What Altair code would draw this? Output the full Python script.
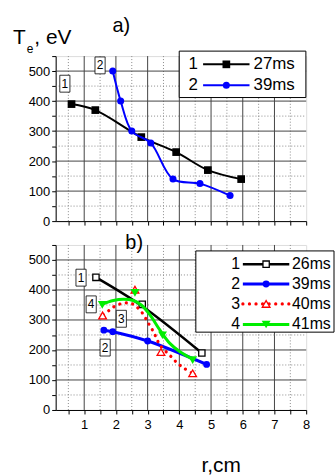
import altair as alt
import pandas as pd

FONT = "Liberation Sans"

# ---------------- data ----------------
# panel a)
a_nums = ["1", "2"]
a_times = ["27ms", "39ms"]
a1_r = [0.6, 1.35, 2.8, 3.9, 4.9, 5.95]
a1_te = [390, 370, 280, 230, 170, 140]
a2_r = [1.9, 2.15, 2.5, 3.1, 3.8, 4.65, 5.6]
a2_te = [500, 400, 300, 260, 140, 125, 85]

# panel b) measured points
b_nums = ["1", "2", "3", "4"]
b_times = ["26ms", "39ms", "40ms", "41ms"]
b1_r = [1.37, 2.83, 4.71]
b1_te = [442, 352, 190]
b2_r = [1.62, 1.9, 3.0, 4.86]
b2_te = [266, 261, 230, 152]
b3_r = [1.58, 2.6, 3.42, 4.42]
b3_te = [315, 401, 193, 122]
b4_r = [1.57, 2.6, 3.47, 4.42]
b4_te = [350, 390, 249, 166]

# panel b) smoothed curves as drawn
c1_r = [1.37, 2.83, 4.71]
c1_te = [442, 346, 190]
c2_r = [1.62, 1.9, 3.0, 4.86]
c2_te = [266, 261, 230, 152]
c3_r = [1.6, 1.8, 2.0, 2.25, 2.47, 2.66, 2.87, 3.0, 3.13, 3.25, 3.39, 3.73, 3.92, 4.15, 4.42]
c3_te = [318, 333, 348, 356, 356, 343, 318, 293, 271, 246, 216, 179, 158, 139, 122]
c4_r = [1.55, 1.92, 2.24, 2.55, 2.81, 3.08, 3.39, 3.7, 4.02, 4.44]
c4_te = [352, 365, 369, 365, 349, 316, 266, 222, 194, 168]

# curve tag labels
a_tag_text = ["1", "2"]
a_tag_r = [0.39, 1.5]
a_tag_te = [458, 519]
b_tag_text = ["1", "4", "3", "2"]
b_tag_r = [0.9, 1.22, 2.17, 1.66]
b_tag_te = [441, 352, 304, 208]

# ticks / grid
x_ticks = [0.5 * i for i in range(1, 17)]
y_ticks = [50 * i for i in range(0, 12)]
x_major = [1, 2, 3, 4, 5, 6, 7]
x_minor = [0.5, 1.5, 2.5, 3.5, 4.5, 5.5, 6.5, 7.5]
y_major = [100, 200, 300, 400, 500]
y_minor = [50, 150, 250, 350, 450]

# ---------------- layout ----------------
X0, X1, Y1 = 0.1, 8.0, 550
W, H, SP = 252, 166, 24
LEFT, TOP_A = 55, 54
TOP_B = TOP_A + H + SP


def xd(px):
    return X0 + (px - LEFT) * (X1 - X0) / W


def ya(py):
    return (TOP_A + H - py) * Y1 / H


def yb(py):
    return (TOP_B + H - py) * Y1 / H


xs = alt.Scale(domain=[X0, X1], nice=False, zero=False)
ys = alt.Scale(domain=[0, Y1], nice=False, zero=False)

common = dict(domainColor="black", tickColor="black", tickSize=4, grid=False,
              labelFont=FONT, labelColor="black", labelFontSize=13,
              domainWidth=1, tickWidth=1, labelFlush=False, labelOverlap=False)
x_axis_a = alt.Axis(values=x_ticks, labels=False, title=None, **common)
x_axis_b = alt.Axis(values=x_ticks,
                    labelExpr="datum.value % 1 == 0 ? '' + datum.value : ''",
                    labelPadding=5, title="r,cm", titleFont=FONT, titleFontSize=21,
                    titleFontWeight="normal", titleColor="black", titleX=166, titleY=62,
                    titleAlign="center", titleBaseline="alphabetic", **common)
y_axis = alt.Axis(values=y_ticks,
                  labelExpr="datum.value % 100 == 0 && datum.value <= 500 ? '' + datum.value : ''",
                  labelPadding=2, title=None, **common)


def XY(ax):
    return dict(x=alt.X("x:Q", scale=xs, axis=ax), y=alt.Y("y:Q", scale=ys, axis=y_axis))


def grid_layers(ax):
    out = []
    for vals, col, dash in [(x_minor, "#8a8a8a", [1, 2]), (x_major, "#444444", None)]:
        kw = dict(color=col, strokeWidth=1)
        if dash:
            kw["strokeDash"] = dash
        df = pd.DataFrame({"x": vals, "y": [0] * len(vals), "y2": [Y1] * len(vals)})
        out.append(alt.Chart(df).mark_rule(**kw).encode(**XY(ax), y2="y2:Q"))
    for vals, col, dash in [(y_minor, "#8a8a8a", [1, 2]), (y_major, "#444444", None)]:
        kw = dict(color=col, strokeWidth=1)
        if dash:
            kw["strokeDash"] = dash
        df = pd.DataFrame({"y": vals, "x": [X0] * len(vals), "x2": [X1] * len(vals)})
        out.append(alt.Chart(df).mark_rule(**kw).encode(**XY(ax), x2="x2:Q"))
    return out


def frame(ax, x1, x2, y1, y2):
    df = pd.DataFrame({"x": [x1], "x2": [x2], "y": [y1], "y2": [y2]})
    return alt.Chart(df).mark_rect(opacity=0).encode(**XY(ax), x2="x2:Q", y2="y2:Q")


def line(ax, r, te, color, sw, dash=None):
    kw = dict(color=color, strokeWidth=sw, interpolate="catmull-rom")
    if dash:
        kw["strokeDash"] = dash
        kw["strokeCap"] = "round"
    return alt.Chart(pd.DataFrame({"x": r, "y": te})).mark_line(**kw).encode(**XY(ax))


def pts(ax, r, te, shape, color, size, hollow=False):
    if hollow:
        m = alt.Chart(pd.DataFrame({"x": r, "y": te})).mark_point(
            shape=shape, filled=True, fill="white", stroke=color, strokeWidth=1.3,
            size=size, opacity=1)
    else:
        m = alt.Chart(pd.DataFrame({"x": r, "y": te})).mark_point(
            shape=shape, filled=True, color=color, size=size, opacity=1)
    return m.encode(**XY(ax))


def text(ax, x, y, s, size, align="left", baseline="alphabetic"):
    df = pd.DataFrame({"x": [x], "y": [y], "t": [s]})
    return alt.Chart(df).mark_text(font=FONT, fontSize=size, align=align,
                                   baseline=baseline, color="black").encode(**XY(ax), text="t:N")


BOX = "M-0.6,-1H0.6V1H-0.6Z"


def tags(ax, r, te, labels):
    df = pd.DataFrame({"x": r, "y": te, "t": labels})
    b = alt.Chart(df).mark_point(shape=BOX, size=289, filled=True, fill="white",
                                 stroke="black", strokeWidth=0.8, opacity=1).encode(**XY(ax))
    t = alt.Chart(df).mark_text(font=FONT, fontSize=12, baseline="middle",
                                align="center", color="black").encode(**XY(ax), text="t:N")
    return [b, t]


def legend(ax, yconv, box, rows, numx, lx1, lx2, mx, labx, nums, times, styles, fs):
    out = []
    df = pd.DataFrame({"x": [xd(box[0])], "x2": [xd(box[2])],
                       "y": [yconv(box[1])], "y2": [yconv(box[3])]})
    out.append(alt.Chart(df).mark_rect(fill="white", stroke="black", strokeWidth=1)
               .encode(**XY(ax), x2="x2:Q", y2="y2:Q"))
    for py, n, tm, st in zip(rows, nums, times, styles):
        yy = yconv(py)
        out.append(line(ax, [xd(lx1), xd(lx2)], [yy, yy], st["color"], st["sw"], st.get("dash")))
        out.append(pts(ax, [xd(mx)], [yy], st["shape"], st["color"], st["size"], st.get("hollow", False)))
        out.append(text(ax, xd(numx), yy, n, fs, align="center", baseline="middle"))
        out.append(text(ax, xd(labx), yy, tm, fs, align="left", baseline="middle"))
    return out


BLUE, RED, GREEN = "#0000ff", "#ff0000", "#00ee00"
DOTS = [0.1, 6.5]

a_styles = [dict(color="black", sw=2, shape="square", size=60),
            dict(color=BLUE, sw=2, shape="circle", size=50)]
b_styles = [dict(color="black", sw=2.5, shape="square", size=40, hollow=True),
            dict(color=BLUE, sw=3, shape="circle", size=48),
            dict(color=RED, sw=3.2, shape="triangle-up", size=60, hollow=True, dash=DOTS),
            dict(color=GREEN, sw=3, shape="triangle-down", size=80)]

# ---------------- panel a ----------------
A = x_axis_a
la = grid_layers(A)
la.append(frame(A, xd(0), xd(LEFT), ya(0), ya(TOP_A)))
la.append(line(A, a1_r, a1_te, "black", 2))
la.append(pts(A, a1_r, a1_te, "square", "black", 60))
la.append(line(A, a2_r, a2_te, BLUE, 2))
la.append(pts(A, a2_r, a2_te, "circle", BLUE, 50))
la += tags(A, a_tag_r, a_tag_te, a_tag_text)
la += legend(A, ya, (179.3, 49, 306.7, 95.7), [62.3, 83.3], 193.3, 203.3, 250, 226.7, 254,
             a_nums, a_times, a_styles, 17)
la.append(text(A, xd(12), ya(42), "T", 21))
la.append(text(A, xd(26), ya(51), "e", 12))
la.append(text(A, xd(33.5), ya(42), ", eV", 21))
la.append(text(A, xd(121), ya(29.5), "a)", 20, align="center"))
panel_a = alt.layer(*la).properties(width=W, height=H)

# ---------------- panel b ----------------
B = x_axis_b
lb = grid_layers(B)
lb.append(frame(B, xd(LEFT + W), xd(336), yb(TOP_B + H), yb(475)))
lb.append(line(B, c1_r, c1_te, "black", 2.5))
lb.append(pts(B, b1_r, b1_te, "square", "black", 40, hollow=True))
lb.append(line(B, c2_r, c2_te, BLUE, 3))
lb.append(pts(B, b2_r, b2_te, "circle", BLUE, 48))
lb.append(line(B, c3_r, c3_te, RED, 3.2, DOTS))
lb.append(pts(B, b3_r, b3_te, "triangle-up", RED, 60, hollow=True))
lb.append(line(B, c4_r, c4_te, GREEN, 3))
lb.append(pts(B, b4_r, b4_te, "triangle-down", GREEN, 80))
lb += tags(B, b_tag_r, b_tag_te, b_tag_text)
lb += legend(B, yb, (196, 250, 335, 331.7), [263.3, 283.3, 303.3, 324], 236, 243.3, 290, 266.7, 292.7,
             b_nums, b_times, b_styles, 16)
lb.append(text(B, xd(134), yb(248.3), "b)", 20, align="center"))
panel_b = alt.layer(*lb).properties(width=W, height=H)

chart = alt.vconcat(panel_a, panel_b, spacing=SP, bounds="flush").properties(
    padding=0
).configure_view(stroke=None).configure(font=FONT)

chart.save("out.html", embed_options={"renderer": "svg", "actions": False})
